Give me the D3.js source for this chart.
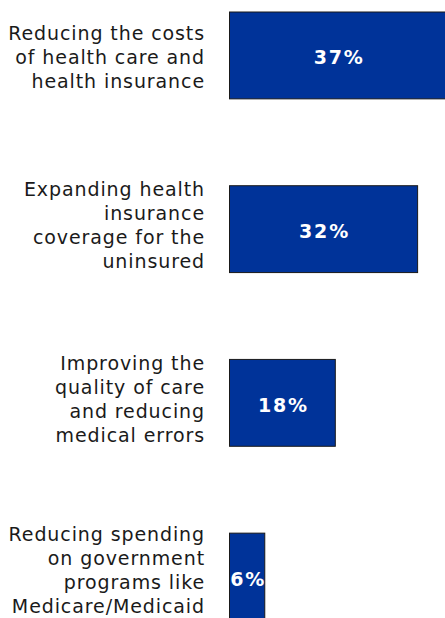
<!DOCTYPE html>
<html>
<head>
<meta charset="utf-8">
<script src="https://cdn.jsdelivr.net/npm/d3@7/dist/d3.min.js"></script>
<style>
  html, body { margin: 0; padding: 0; background: #fff; }
  svg { display: block; }
</style>
</head>
<body>
<script>
// Priorities, each label broken into its display lines
const categories = [
  ["Reducing the costs", "of health care and", "health insurance"],
  ["Expanding health", "insurance", "coverage for the", "uninsured"],
  ["Improving the", "quality of care", "and reducing", "medical errors"],
  ["Reducing spending", "on government", "programs like", "Medicare/Medicaid"]
];
const values = [37, 32, 18, 6];
const valueLabels = ["37%", "32%", "18%", "6%"];

const width = 445, height = 618;
const barLeft = 229.5;

const svg = d3.select("body").append("svg")
  .attr("width", width)
  .attr("height", height);

const keys = categories.map((c, i) => "c" + i);

const x = d3.scaleLinear().domain([0, 37]).range([barLeft, 447]);
const y = d3.scaleBand().domain(keys).range([12, 620]).paddingInner(0.5).paddingOuter(0);

const data = values.map((v, i) => ({ key: keys[i], lines: categories[i], value: v, label: valueLabels[i] }));

const defs = svg.append("defs");

const g = svg.selectAll("g.row").data(data).join("g").attr("class", "row");

// clip each value label to its own bar
g.each(function(d, i) {
  defs.append("clipPath").attr("id", "clip" + i)
    .append("rect")
    .attr("x", x(0))
    .attr("y", y(d.key))
    .attr("width", x(d.value) - x(0))
    .attr("height", y.bandwidth());
});

g.append("rect")
  .attr("x", x(0))
  .attr("y", d => y(d.key))
  .attr("width", d => x(d.value) - x(0))
  .attr("height", y.bandwidth())
  .attr("fill", "#003399")
  .attr("stroke", "#1a1a1a")
  .attr("stroke-width", 1);

g.append("text")
  .attr("clip-path", (d, i) => `url(#clip${i})`)
  .attr("x", d => (x(0) + x(d.value)) / 2 + 1)
  .attr("y", d => y(d.key) + y.bandwidth() / 2 + 9)
  .attr("text-anchor", "middle")
  .attr("fill", "#fff")
  .attr("font-family", "'DejaVu Sans', Verdana, sans-serif")
  .attr("font-weight", "bold")
  .attr("font-size", 19)
  .attr("letter-spacing", 1.8)
  .text(d => d.label);

// category labels, right-aligned to the left of the bars
const lineH = 24;
g.append("text")
  .attr("text-anchor", "end")
  .attr("fill", "#1a1a1a")
  .attr("font-family", "'DejaVu Sans', Verdana, sans-serif")
  .attr("font-size", 19)
  .attr("letter-spacing", 0.9)
  .each(function(d) {
    const n = d.lines.length;
    const cy = y(d.key) + y.bandwidth() / 2;
    const offset = 3 + (4 - n) * 6;
    // keep the last line (with its descent) inside the canvas
    const shift = Math.min(0, (height - 5) - (cy + ((n - 1) / 2) * lineH + offset));
    d3.select(this).selectAll("tspan").data(d.lines).join("tspan")
      .attr("x", 205)
      .attr("y", (t, j) => cy + (j - (n - 1) / 2) * lineH + offset + shift)
      .text(t => t);
  });
</script>
</body>
</html>
